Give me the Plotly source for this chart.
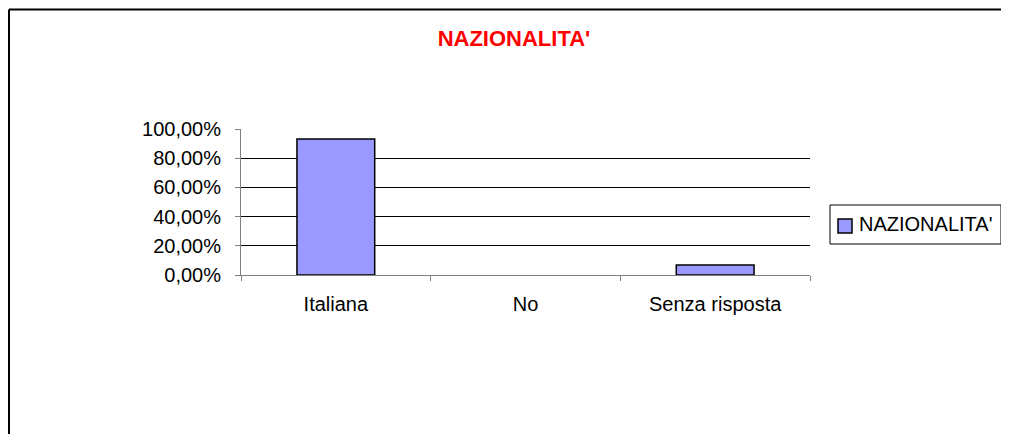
import plotly.graph_objects as go

categories = ["Italiana", "No", "Senza risposta"]
values = [0.931, 0.0, 0.069]
series_name = "NAZIONALITA'"
title_text = "NAZIONALITA'"
y_ticks = [0, 0.2, 0.4, 0.6, 0.8, 1.0]

# page body adds an 8px margin, so the figure starts 8px into the window
W, H = 1001, 426
# plot-area edges in figure pixels
L, R, T, B = 233, 802, 121, 267

def px_x(x):
    return (x - L) / (R - L)

def px_y(y):
    return (B - y) / (B - T)

FONT = "Liberation Sans, Arial, sans-serif"
BAR_COLOR = "#9999FF"

fig = go.Figure()
fig.add_trace(go.Bar(
    x=categories, y=values, name=series_name,
    marker=dict(color=BAR_COLOR,
                line=dict(color="black", width=[1.5 if v > 0 else 0 for v in values])),
    width=0.41, showlegend=False,
))

fig.update_layout(
    width=W, height=H,
    margin=dict(l=L, r=W - R, t=T, b=H - B, pad=0),
    paper_bgcolor="white", plot_bgcolor="white",
    separators=",.",
    font=dict(family=FONT, size=20, color="black"),
    title=dict(text="<b>" + title_text + "</b>", x=506 / W, xref="container", xanchor="center",
               y=1 - 30 / H, yref="container", yanchor="middle",
               font=dict(size=22, color="#FF0000", family=FONT)),
    showlegend=False,
    xaxis=dict(type="category", showline=True, linecolor="#808080", linewidth=1,
               ticks="outside", ticklen=5, tickcolor="#808080", tickson="boundaries",
               showgrid=False, ticklabelstandoff=11, fixedrange=True),
    yaxis=dict(range=[0, 1], tickvals=y_ticks, tickformat=".2%",
               showline=True, linecolor="#808080", linewidth=1,
               ticks="outside", ticklen=5, tickcolor="#808080",
               showgrid=True, gridcolor="black", gridwidth=1, zeroline=False,
               ticklabelstandoff=10, fixedrange=True),
    shapes=[
        # outer chart frame (top and left edges visible)
        dict(type="line", xref="paper", yref="paper", x0=px_x(1), x1=px_x(W),
             y0=px_y(1.5), y1=px_y(1.5), line=dict(color="black", width=2)),
        dict(type="line", xref="paper", yref="paper", x0=px_x(1), x1=px_x(1),
             y0=px_y(1.5), y1=px_y(H), line=dict(color="black", width=2)),
        # legend box
        dict(type="rect", xref="paper", yref="paper", x0=px_x(822), x1=px_x(993),
             y0=px_y(197), y1=px_y(236), line=dict(color="black", width=1),
             fillcolor="white", layer="below"),
        # legend swatch
        dict(type="rect", xref="paper", yref="paper", x0=px_x(830), x1=px_x(844),
             y0=px_y(211), y1=px_y(225), line=dict(color="black", width=1.5),
             fillcolor=BAR_COLOR),
    ],
    annotations=[
        dict(text=series_name, xref="paper", yref="paper", x=px_x(849), y=px_y(216),
             xanchor="left", yanchor="middle", showarrow=False,
             font=dict(size=20, family=FONT, color="black")),
    ],
)

fig.write_html("out.html", config={"displayModeBar": False})
